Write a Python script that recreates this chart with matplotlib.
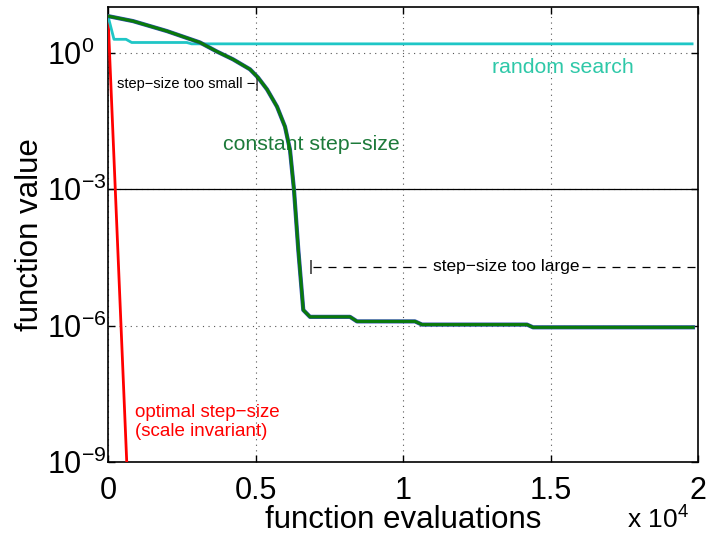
import matplotlib
matplotlib.use("Agg")
import matplotlib.pyplot as plt
from matplotlib.ticker import FuncFormatter
import numpy as np

plt.rcParams['font.family'] = ['Liberation Sans', 'DejaVu Sans']
plt.rcParams['mathtext.fontset'] = 'custom'
plt.rcParams['mathtext.rm'] = 'Liberation Sans'
plt.rcParams['mathtext.it'] = 'Liberation Sans:italic'

# function evaluations vs log10(function value)
const_evals = [0, 848, 2000, 3119, 3695, 4237, 4814, 5085, 5390, 5729, 6000,
               6169, 6305, 6451, 6620, 6847, 8203, 8441, 10407, 10644, 14203,
               14407, 19830]
const_log = [0.80, 0.69, 0.47, 0.22, 0.02, -0.15, -0.37, -0.55, -0.81, -1.19,
             -1.63, -2.14, -3.02, -4.34, -5.66, -5.81, -5.81, -5.91, -5.91,
             -5.98, -5.98, -6.04, -6.04]

rand_evals = [0, 203, 610, 803, 2668, 2837, 19800]
rand_log = [0.80, 0.29, 0.29, 0.22, 0.22, 0.19, 0.19]

opt_evals = [0, 700]
opt_log = [0.80, -10.0]

xticks = [0, 5000, 10000, 15000, 20000]
yticks = [1e0, 1e-3, 1e-6, 1e-9]
ytick_labels = [r'$10^{0}$', r'$10^{-3}$', r'$10^{-6}$', r'$10^{-9}$']

fig = plt.figure(figsize=(7.08, 5.42), dpi=100)
ax = fig.add_axes([108/708, 80/542, 590/708, 455/542])

ax.plot(opt_evals, 10**np.array(opt_log), color='#ff0000', lw=2, zorder=3)
ax.plot(rand_evals, 10**np.array(rand_log), color='#1fc6c6', lw=2, zorder=3)
ax.plot(const_evals, 10**np.array(const_log), color='#3050b0', lw=3, zorder=3)
ax.plot(const_evals, 10**np.array(const_log), color='#0a7a0a', lw=2.2, zorder=4)

ax.axhline(1e-3, color='black', lw=0.9, zorder=2)

ax.set_yscale('log')
ax.set_xlim(0, 20000)
ax.set_ylim(1e-9, 1e1)
ax.set_xticks(xticks)
ax.xaxis.set_major_formatter(FuncFormatter(lambda v, p: f"{v/1e4:g}"))
ax.set_yticks(yticks)
ax.set_yticklabels(ytick_labels, ha='left')
ax.yaxis.set_minor_locator(matplotlib.ticker.NullLocator())
ax.tick_params(direction='in', length=5, width=1, labelsize=22,
               top=True, right=True)
ax.tick_params(axis='x', pad=10)
ax.tick_params(axis='y', pad=44)
ax.grid(True, linestyle=(0, (1, 4)), color='#555555', lw=0.8)
for s in ax.spines.values():
    s.set_linewidth(1.2)

ax.set_xlabel('function evaluations', fontsize=22.5, labelpad=-1)
ax.set_ylabel('function value', fontsize=22.5)
ax.yaxis.set_label_coords(-0.107, 0.5)
fig.text(0.886, 0.015, r'x 10$^{4}$', fontsize=19, ha='left', va='bottom')

# annotations
ax.text(305, 10**-0.69, 'step−size too small −|', fontsize=10.5,
        va='center', ha='left')
ax.text(3898, 10**-2.03, 'constant step−size', fontsize=15.3,
        color='#1d7a3a', va='center', ha='left')
ax.text(13017, 10**-0.34, 'random search', fontsize=15.3,
        color='#2ec8a8', va='center', ha='left')
ax.text(915, 10**-8.12, 'optimal step−size\n(scale invariant)', fontsize=13.5,
        color='#ff0000', va='center', ha='left', linespacing=1.12)

ax.text(6881, 10**-4.71, '|', fontsize=11, va='center', ha='center')
ax.plot([6950, 10915], [10**-4.71, 10**-4.71], color='black', lw=0.9,
        dashes=(6.4, 5.6))
ax.plot([16068, 20000], [10**-4.71, 10**-4.71], color='black', lw=0.9,
        dashes=(6.4, 5.6))
ax.text(13492, 10**-4.71, 'step−size too large', fontsize=12.5,
        va='center', ha='center')

fig.savefig('out.png', dpi=100)
